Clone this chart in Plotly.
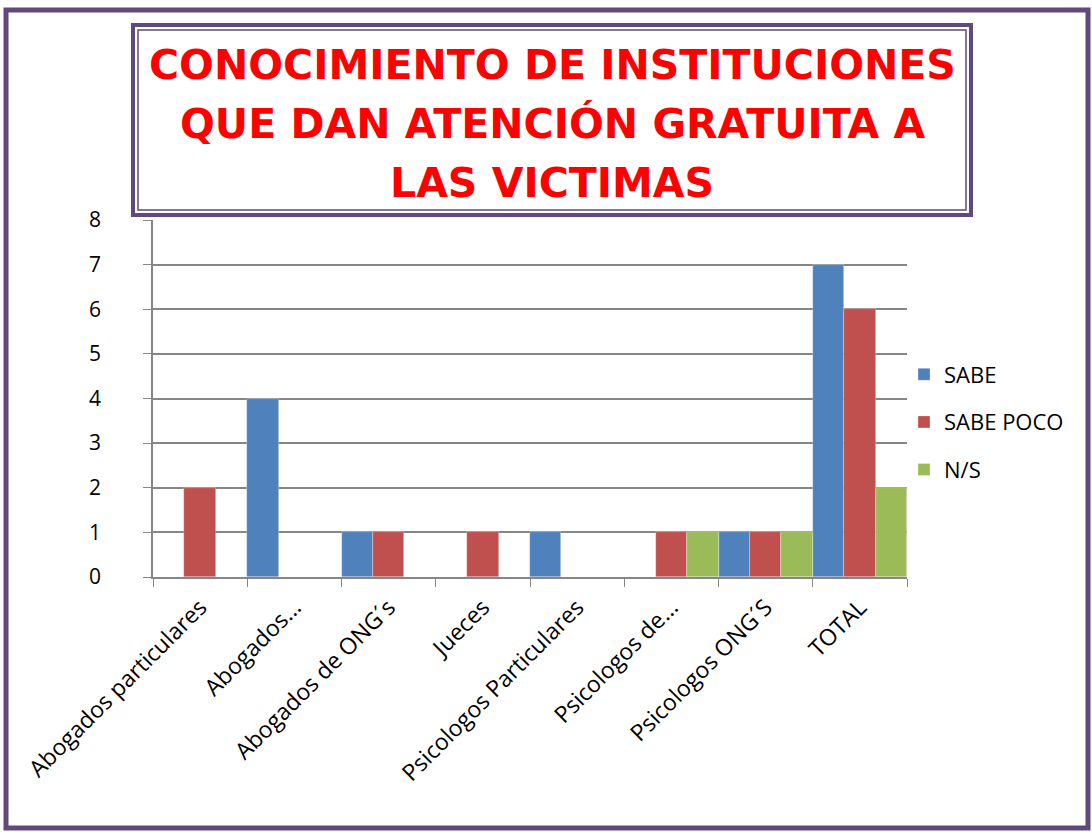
import plotly.graph_objects as go

categories = ["Abogados particulares", "Abogados...", "Abogados de ONG´s", "Jueces",
              "Psicologos Particulares", "Psicologos de...", "Psicologos ONG´S", "TOTAL"]
sabe = [0, 4, 1, 0, 1, 0, 1, 7]
sabe_poco = [2, 0, 1, 1, 0, 1, 1, 6]
ns = [0, 0, 0, 0, 0, 1, 1, 2]
series_names = ["SABE", "SABE POCO", "N/S"]
colors = ["#4F81BD", "#C0504D", "#9BBB59"]
title_lines = ["CONOCIMIENTO DE INSTITUCIONES", "QUE DAN ATENCIÓN GRATUITA A", "LAS VICTIMAS"]

W, H = 1092, 832
L, R, T, B = 153, 907, 220, 577

def px(x):
    return (x - L) / (R - L)

def py(y):
    return (B - y) / (B - T)

fig = go.Figure()
for name, vals, col in zip(series_names, [sabe, sabe_poco, ns], colors):
    fig.add_trace(go.Bar(x=categories, y=vals, name=name, legendgroup=name,
                         marker=dict(color=col, line=dict(color="rgba(255,255,255,0.5)", width=0.6))))

purple = "#604A7B"
shapes = [
    dict(type="rect", xref="paper", yref="paper", x0=px(6), x1=px(1088), y0=py(10), y1=py(828),
         line=dict(color=purple, width=5), layer="above"),
    dict(type="rect", xref="paper", yref="paper", x0=px(133), x1=px(971), y0=py(25), y1=py(215),
         line=dict(color=purple, width=4), fillcolor="white", layer="above"),
    dict(type="rect", xref="paper", yref="paper", x0=px(138), x1=px(966), y0=py(30), y1=py(210),
         line=dict(color=purple, width=1.5), layer="above"),
]

annotations = []
for line, yc in zip(title_lines, [65, 124, 183]):
    annotations.append(dict(
        text="<b>" + line + "</b>",
        xref="paper", yref="paper", x=px(552), y=py(yc), xanchor="center", yanchor="middle",
        showarrow=False, align="center",
        font=dict(family="DejaVu Sans", size=41, color="#FF0000"),
    ))

fig.update_layout(
    width=W, height=H,
    margin=dict(l=L, r=W - R, t=T, b=H - B),
    paper_bgcolor="white", plot_bgcolor="white",
    barmode="group", bargap=0, bargroupgap=0,
    font=dict(family="Open Sans", color="black"),
    shapes=shapes,
    showlegend=True,
    legend=dict(x=px(904), xanchor="left", y=py(422), yanchor="middle",
                font=dict(size=22, family="Open Sans"), tracegroupgap=16,
                bgcolor="rgba(0,0,0,0)"),
    annotations=annotations,
)
fig.update_xaxes(type="category", tickangle=-45, tickson="boundaries", ticks="outside",
                 ticklen=8, tickcolor="#868686", showline=True, linecolor="#868686", linewidth=1.5,
                 ticklabelstandoff=6,
                 tickfont=dict(size=23, family="Open Sans", color="black"), showgrid=False)
fig.update_yaxes(range=[0, 8], dtick=1, tick0=0, ticks="outside", ticklen=8, tickcolor="#868686",
                 showline=True, linecolor="#868686", linewidth=1.5, showgrid=True,
                 gridcolor="#868686", gridwidth=1.5, zeroline=False, ticklabelstandoff=38,
                 tickfont=dict(size=21, family="Open Sans", color="black"))

fig.write_html("out.html", config={"displayModeBar": False},
               post_script="document.body.style.margin='0';document.body.style.overflow='hidden';")
